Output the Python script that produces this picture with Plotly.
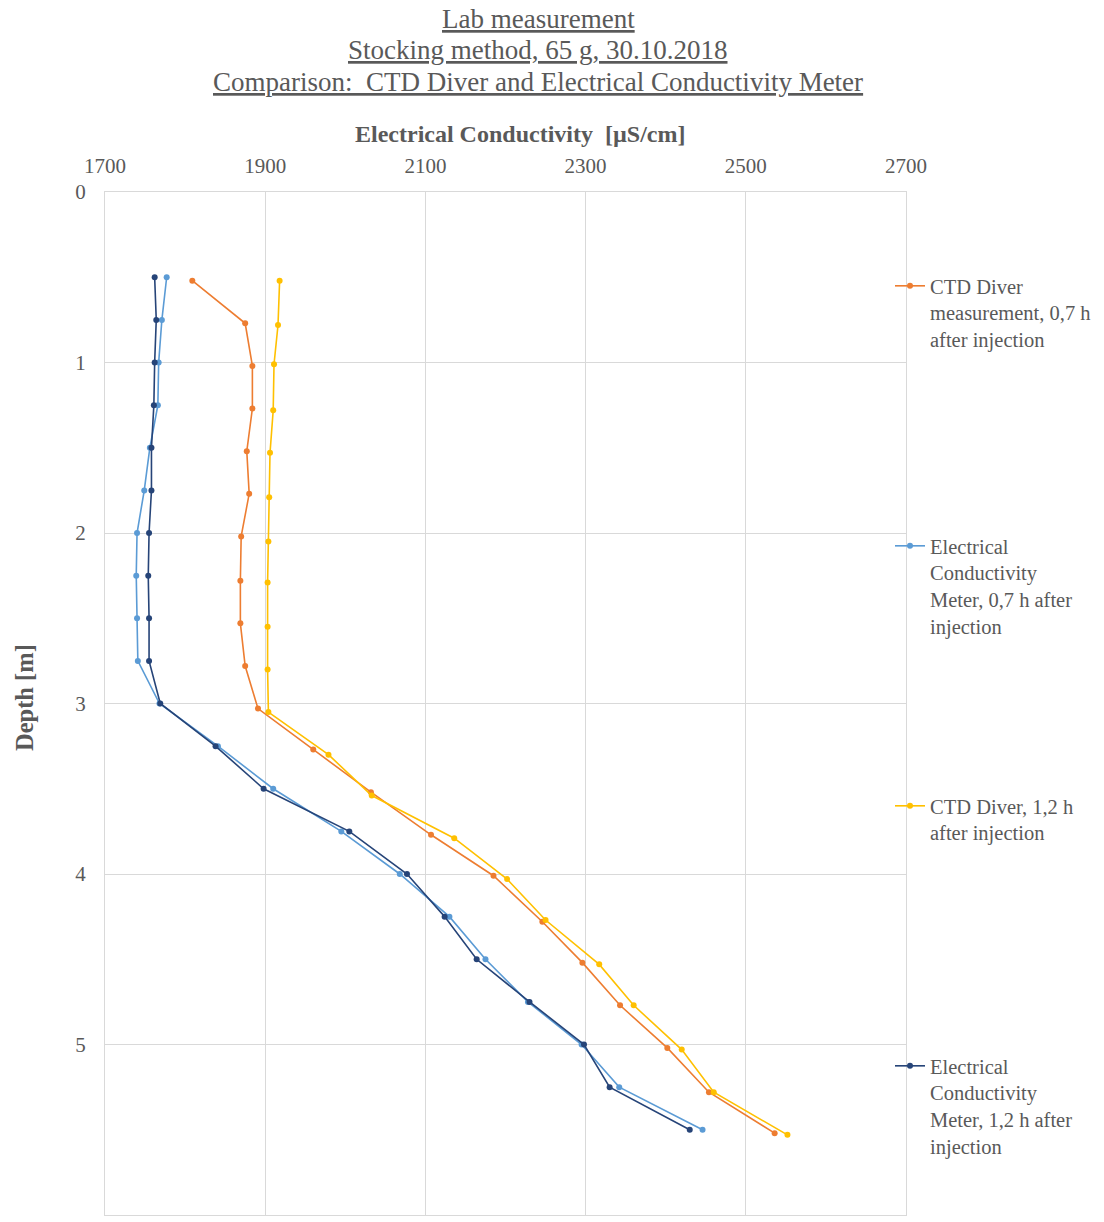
import plotly.graph_objects as go

# ---- data ----
depth_ec = [0.5, 0.75, 1.0, 1.25, 1.5, 1.75, 2.0, 2.25, 2.5, 2.75, 3.0,
            3.25, 3.5, 3.75, 4.0, 4.25, 4.5, 4.75, 5.0, 5.25, 5.5]

ec_meter_07 = [1777, 1771, 1767, 1766, 1756, 1749, 1740, 1739, 1740, 1741, 1768,
               1841, 1910, 1995, 2068, 2130, 2175, 2228, 2295, 2342, 2446]
ec_meter_12 = [1762, 1764, 1762, 1761, 1758, 1758, 1755, 1754, 1755, 1755, 1769,
               1838, 1898, 2005, 2077, 2124, 2164, 2230, 2298, 2330, 2430]

depth_ctd_07 = [0.52, 0.77, 1.02, 1.27, 1.52, 1.77, 2.02, 2.28, 2.53, 2.78, 3.03,
                3.27, 3.52, 3.77, 4.01, 4.28, 4.52, 4.77, 5.02, 5.28, 5.52]
ctd_07 = [1809, 1875, 1884, 1884, 1877, 1880, 1870, 1869, 1869, 1875, 1891,
          1960, 2032, 2107, 2185, 2246, 2296, 2343, 2402, 2454, 2536]

depth_ctd_12 = [0.52, 0.78, 1.01, 1.28, 1.53, 1.79, 2.05, 2.29, 2.55, 2.80, 3.05,
                3.30, 3.54, 3.79, 4.03, 4.27, 4.53, 4.77, 5.03, 5.28, 5.53]
ctd_12 = [1918, 1916, 1911, 1910, 1906, 1905, 1904, 1903, 1903, 1903, 1904,
          1979, 2033, 2136, 2202, 2250, 2317, 2360, 2420, 2460, 2552]

names = [
    "CTD Diver<br>measurement, 0,7 h<br>after injection",
    "Electrical<br>Conductivity<br>Meter, 0,7 h after<br>injection",
    "CTD Diver, 1,2 h<br>after injection",
    "Electrical<br>Conductivity<br>Meter, 1,2 h after<br>injection",
]
colors = ["#ED7D31", "#5B9BD5", "#FFC000", "#264478"]

x_ticks = [1700, 1900, 2100, 2300, 2500, 2700]
y_ticks = [0, 1, 2, 3, 4, 5, 6]

title_lines = [
    "Lab measurement",
    "Stocking method, 65 g, 30.10.2018",
    "Comparison:  CTD Diver and Electrical Conductivity Meter",
]
x_title = "Electrical Conductivity  [µS/cm]"
y_title = "Depth [m]"

FONT = "Liberation Serif, Times New Roman, serif"
GREY = "#595959"
GRID = "#d9d9d9"

series = [
    (ctd_07, depth_ctd_07),
    (ec_meter_07, depth_ec),
    (ctd_12, depth_ctd_12),
    (ec_meter_12, depth_ec),
]

fig = go.Figure()
legend_ids = ["legend", "legend2", "legend3", "legend4"]
for (xs, ys), name, col, lg in zip(series, names, colors, legend_ids):
    fig.add_trace(go.Scatter(
        x=xs, y=ys, mode="lines+markers", name=name,
        line=dict(color=col, width=1.6),
        marker=dict(color=col, size=6),
        legend=lg,
    ))

W, H = 1104, 1222
L, R, T, B = 105, 198, 192, 7
pw, ph = W - L - R, H - T - B

def px_x(px):
    return (px - L) / pw

def px_y(py):
    return (H - B - py) / ph

legend_tops = [266, 526, 786, 1046]
legend_common = dict(
    xanchor="left", yanchor="top", valign="top",
    bgcolor="rgba(0,0,0,0)", borderwidth=0, itemwidth=30,
    font=dict(family=FONT, size=20.5, color=GREY),
    tracegroupgap=0,
)
layout_legends = {}
for lg, top in zip(legend_ids, legend_tops):
    layout_legends[lg] = dict(x=px_x(890), y=px_y(top), **legend_common)

title_y = [19, 50, 82]
annotations = []
for txt, cy in zip(title_lines, title_y):
    annotations.append(dict(
        text="<u>" + txt + "</u>", xref="paper", yref="paper",
        x=px_x(538), y=px_y(cy), xanchor="center", yanchor="middle",
        showarrow=False, font=dict(family=FONT, size=27, color=GREY),
    ))
annotations.append(dict(
    text="<b>" + x_title + "</b>", xref="paper", yref="paper",
    x=px_x(520), y=px_y(134), xanchor="center", yanchor="middle",
    showarrow=False, font=dict(family=FONT, size=24, color=GREY),
))
annotations.append(dict(
    text="<b>" + y_title + "</b>", xref="paper", yref="paper",
    x=px_x(24), y=px_y(698), xanchor="center", yanchor="middle",
    textangle=-90,
    showarrow=False, font=dict(family=FONT, size=24.5, color=GREY),
))

fig.update_layout(
    width=W, height=H,
    margin=dict(l=L, r=R, t=T, b=B),
    paper_bgcolor="white", plot_bgcolor="white",
    font=dict(family=FONT, color=GREY),
    showlegend=True,
    annotations=annotations,
    **layout_legends,
)

fig.update_xaxes(
    side="top", range=[1700, 2700], tickvals=x_ticks,
    showgrid=True, gridcolor=GRID, gridwidth=1,
    showline=True, linecolor=GRID, linewidth=1, mirror=True,
    zeroline=False, ticks="",
    tickfont=dict(family=FONT, size=21, color=GREY),
    ticklabelstandoff=10,
)
fig.update_yaxes(
    range=[6, 0], tickvals=y_ticks,
    showgrid=True, gridcolor=GRID, gridwidth=1,
    showline=True, linecolor=GRID, linewidth=1, mirror=True,
    zeroline=False, ticks="",
    tickfont=dict(family=FONT, size=21, color=GREY),
    ticklabelstandoff=14,
)

fig.write_html("out.html")
